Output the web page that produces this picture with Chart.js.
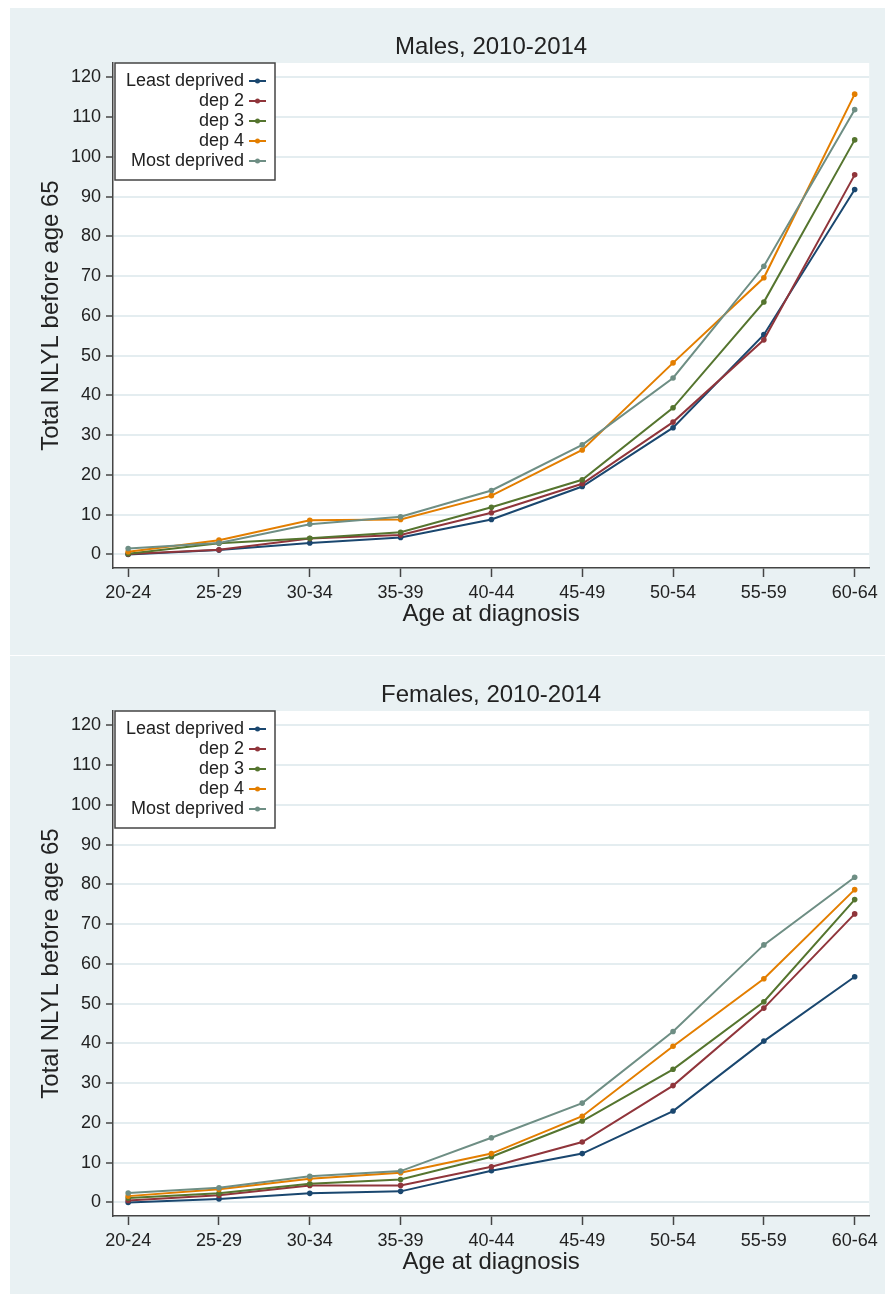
<!DOCTYPE html>
<html><head><meta charset="utf-8">
<script src="https://cdn.jsdelivr.net/npm/chart.js@4"></script>
<style>
body{margin:0;background:#fff;width:885px;height:1294px;position:relative;overflow:hidden}
.panel{position:absolute;left:10px;width:875px;background:#e9f1f3}
#p1{top:8px;height:647px}
#p2{top:656px;height:638px}
canvas{display:block}
</style></head><body>
<div class="panel" id="p1"><canvas id="c1" width="875" height="647"></canvas></div>
<div class="panel" id="p2"><canvas id="c2" width="875" height="638"></canvas></div>
<script>
const categories = ['20-24','25-29','30-34','35-39','40-44','45-49','50-54','55-59','60-64'];
const seriesNames = ['Least deprived','dep 2','dep 3','dep 4','Most deprived'];
const seriesColors = ['#1a476f','#90353b','#55752f','#e37e00','#6e8e84'];
const yTicks = [0,10,20,30,40,50,60,70,80,90,100,110,120];

const maleLeast = [0, 1.1, 2.9, 4.3, 8.8, 17.1, 31.9, 55.3, 91.8];
const maleDep2  = [0.1, 1.2, 4.0, 4.9, 10.5, 17.8, 33.3, 54.0, 95.5];
const maleDep3  = [0.2, 2.8, 4.1, 5.6, 11.9, 18.8, 36.9, 63.5, 104.3];
const maleDep4  = [0.7, 3.6, 8.6, 8.8, 14.8, 26.3, 48.2, 69.6, 115.8];
const maleMost  = [1.5, 2.9, 7.6, 9.5, 16.1, 27.6, 44.4, 72.5, 111.9];

const femLeast = [0, 0.9, 2.3, 2.8, 8.0, 12.3, 23.0, 40.6, 56.8];
const femDep2  = [0.5, 1.8, 4.3, 4.3, 9.0, 15.2, 29.4, 48.9, 72.6];
const femDep3  = [1.1, 2.3, 4.7, 5.8, 11.5, 20.5, 33.5, 50.5, 76.2];
const femDep4  = [1.6, 3.3, 6.0, 7.5, 12.3, 21.7, 39.3, 56.3, 78.7];
const femMost  = [2.4, 3.7, 6.6, 7.9, 16.3, 25.0, 43.0, 64.8, 81.8];

const FONT = '"Liberation Sans", Arial, sans-serif';
const TXT = '#222';
const AXC = '#444';

const bgPlugin = {
  id:'plotBg',
  beforeDraw(chart){
    const a = chart.chartArea, ctx = chart.ctx;
    ctx.save(); ctx.fillStyle = '#fff';
    ctx.fillRect(a.left, a.top, a.right - a.left, a.bottom - a.top);
    ctx.restore();
  }
};

const legendPlugin = {
  id:'boxLegend',
  afterDatasetsDraw(chart){
    const ctx = chart.ctx, a = chart.chartArea;
    const x0 = a.left + 2, y0 = a.top, w = 160, h = 117;
    ctx.save();
    ctx.fillStyle = '#fff'; ctx.fillRect(x0, y0, w, h);
    ctx.strokeStyle = AXC; ctx.lineWidth = 1.5; ctx.strokeRect(x0, y0, w, h);
    ctx.font = '18px ' + FONT; ctx.textAlign = 'right'; ctx.textBaseline = 'middle';
    chart.data.datasets.forEach((ds, k) => {
      const yy = y0 + 18 + k * 20;
      ctx.fillStyle = TXT; ctx.fillText(ds.label, x0 + 129, yy);
      ctx.strokeStyle = ds.borderColor; ctx.lineWidth = 2;
      ctx.beginPath(); ctx.moveTo(x0 + 134, yy); ctx.lineTo(x0 + 151, yy); ctx.stroke();
      ctx.fillStyle = ds.borderColor;
      ctx.beginPath(); ctx.arc(x0 + 142.5, yy, 2.5, 0, Math.PI * 2); ctx.fill();
    });
    ctx.restore();
  }
};

function makeChart(id, titleText, values, H){
  const datasets = seriesNames.map((name, k) => ({
    label: name,
    data: values[k].map((v, i) => ({x: i, y: v})),
    borderColor: seriesColors[k], backgroundColor: seriesColors[k],
    borderWidth: 2, pointRadius: 2.8, pointBorderWidth: 0, pointHoverRadius: 2.8,
    tension: 0, order: 5 - k
  }));
  return new Chart(document.getElementById(id), {
    type: 'line',
    data: {datasets},
    options: {
      responsive: false, animation: false, devicePixelRatio: 1,
      layout: {padding: {left: 10, right: 10, top: 0, bottom: 0}},
      plugins: {
        legend: {display: false}, tooltip: {enabled: false},
        title: {display: true, text: titleText, fullSize: false, color: TXT,
          font: {family: FONT, size: 24, weight: 'normal', lineHeight: 1},
          padding: {top: 27, bottom: 4}}
      },
      scales: {
        x: {
          type: 'linear', min: -0.167, max: 8.16,
          afterBuildTicks: s => { s.ticks = categories.map((c, i) => ({value: i})); },
          afterFit: s => { s.height = H - 560; },
          ticks: {callback: v => categories[v], color: TXT, font: {family: FONT, size: 18, lineHeight: 1},
            padding: 7, maxRotation: 0, autoSkip: false},
          grid: {drawOnChartArea: false, drawTicks: true, tickLength: 9, tickColor: AXC, tickWidth: 1.5},
          border: {display: true, color: AXC, width: 1.5},
          title: {display: true, text: 'Age at diagnosis', color: TXT,
            font: {family: FONT, size: 24, lineHeight: 1}, padding: {top: 0, bottom: H - 618.5}}
        },
        y: {
          type: 'linear', min: -3.4, max: 123.64,
          afterBuildTicks: s => { s.ticks = yTicks.map(v => ({value: v})); },
          afterFit: s => { s.width = 93; },
          ticks: {color: TXT, font: {family: FONT, size: 18, lineHeight: 1}, padding: 5},
          grid: {color: '#e4edf0', lineWidth: 2, tickLength: 7, tickColor: AXC, tickWidth: 1.5},
          border: {color: AXC, width: 1.5},
          title: {display: true, text: 'Total NLYL before age 65', color: TXT,
            font: {family: FONT, size: 24, lineHeight: 1}, padding: {top: 19, bottom: 0}}
        }
      }
    },
    plugins: [bgPlugin, legendPlugin]
  });
}

makeChart('c1', 'Males, 2010-2014', [maleLeast, maleDep2, maleDep3, maleDep4, maleMost], 647);
makeChart('c2', 'Females, 2010-2014', [femLeast, femDep2, femDep3, femDep4, femMost], 638);
</script>
</body></html>
